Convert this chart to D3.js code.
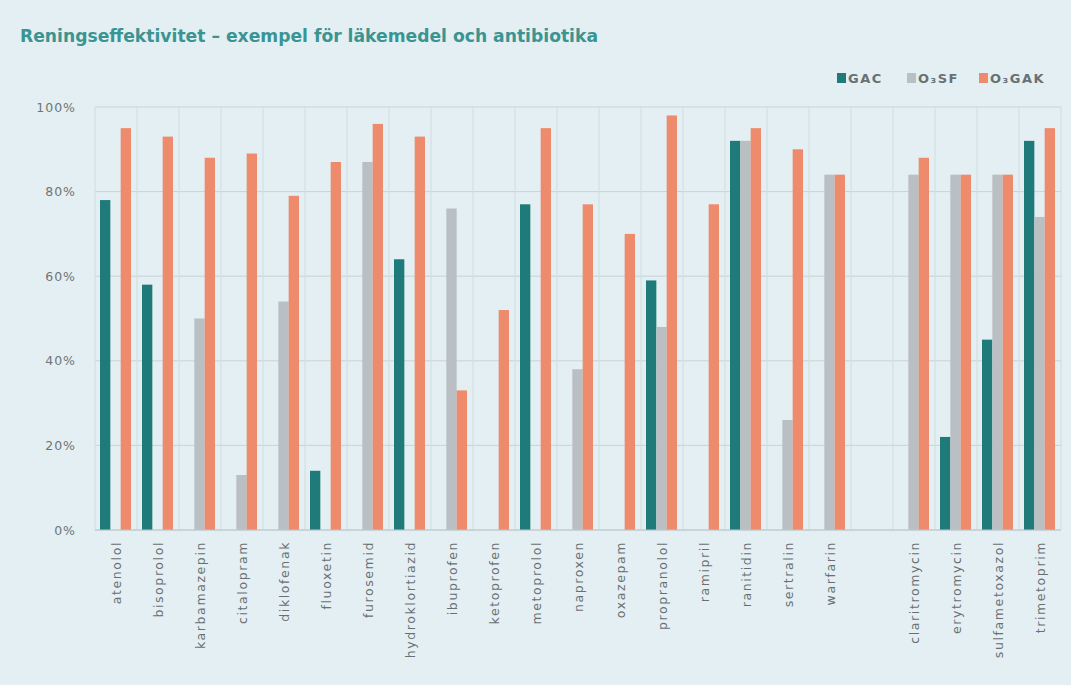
<!DOCTYPE html>
<html>
<head>
<meta charset="utf-8">
<script src="https://cdn.jsdelivr.net/npm/d3@7"></script>
<style>
  html, body { margin: 0; padding: 0; background: #e3eff2; }
  svg { display: block; }
  text { font-family: "DejaVu Sans", sans-serif; }
</style>
</head>
<body>
<svg id="chart" width="1071" height="685"></svg>
<script>
// Substances (an empty slot separates pharmaceuticals from antibiotics)
const categories = ["atenolol", "bisoprolol", "karbamazepin", "citalopram", "diklofenak",
  "fluoxetin", "furosemid", "hydroklortiazid", "ibuprofen", "ketoprofen", "metoprolol",
  "naproxen", "oxazepam", "propranolol", "ramipril", "ranitidin", "sertralin", "warfarin",
  "", "claritromycin", "erytromycin", "sulfametoxazol", "trimetoprim"];

const seriesNames = ["GAC", "O₃SF", "O₃GAK"];

// Removal efficiency in percent (null = no value)
const gac   = [78, 58, null, null, null, 14, null, 64, null, null, 77, null, null, 59, null, 92, null, null, null, null, 22, 45, 92];
const o3sf  = [null, null, 50, 13, 54, null, 87, null, 76, null, null, 38, null, 48, null, 92, 26, 84, null, 84, 84, 84, 74];
const o3gak = [95, 93, 88, 89, 79, 87, 96, 93, 33, 52, 95, 77, 70, 98, 77, 95, 90, 84, null, 88, 84, 84, 95];

const yTicks = [0, 20, 40, 60, 80, 100];
const colors = ["#1f7b79", "#b9bfc2", "#ee8b6d"];

const seriesValues = [gac, o3sf, o3gak];

const svg = d3.select("#chart");
const margin = { left: 95, right: 10, top: 107, bottom: 155 };
const W = 1071, H = 685;

const x0 = d3.scaleBand().domain(d3.range(categories.length))
  .range([margin.left, W - margin.right]).padding(0);
const x1 = d3.scaleBand().domain(d3.range(seriesNames.length))
  .range([5, x0.bandwidth() - 6]).padding(0);
const y = d3.scaleLinear().domain([0, 100]).range([H - margin.bottom, margin.top]);

// Title
svg.append("text")
  .attr("x", 20).attr("y", 42)
  .attr("font-size", 18).attr("font-weight", 600)
  .attr("fill", "#3a9492")
  .attr("textLength", 578).attr("lengthAdjust", "spacingAndGlyphs")
  .text("Reningseffektivitet – exempel för läkemedel och antibiotika");

// Horizontal gridlines
svg.append("g").selectAll("line").data(yTicks).join("line")
  .attr("x1", margin.left).attr("x2", W - margin.right)
  .attr("y1", d => y(d)).attr("y2", d => y(d))
  .attr("stroke", "#c9d3d6").attr("stroke-width", 1);

// Vertical separators between categories
const edges = d3.range(categories.length + 1).map(i =>
  i < categories.length ? x0(i) : x0(categories.length - 1) + x0.bandwidth());
svg.append("g").selectAll("line").data(edges).join("line")
  .attr("x1", d => d).attr("x2", d => d)
  .attr("y1", y(100)).attr("y2", y(0))
  .attr("stroke", "#d3dcdf").attr("stroke-width", 1);

// Y axis labels
const yAxis = d3.axisLeft(y).tickValues(yTicks).tickFormat(d => d + "%").tickSize(0).tickPadding(19);
const gy = svg.append("g").attr("transform", `translate(${margin.left},0)`).call(yAxis);
gy.select(".domain").remove();
gy.selectAll("text").attr("font-size", 12.5).attr("fill", "#6f7476")
  .attr("letter-spacing", 1)
  .style("font-family", '"DejaVu Sans", sans-serif');

// Bars
const bars = [];
categories.forEach((c, i) => {
  seriesValues.forEach((vals, s) => {
    if (vals[i] != null) bars.push({ i, s, v: vals[i] });
  });
});
svg.append("g").selectAll("rect").data(bars).join("rect")
  .attr("x", d => x0(d.i) + x1(d.s))
  .attr("width", x1.bandwidth())
  .attr("y", d => y(d.v))
  .attr("height", d => y(0) - y(d.v))
  .attr("fill", d => colors[d.s]);

// X axis baseline
svg.append("line")
  .attr("x1", margin.left).attr("x2", W - margin.right)
  .attr("y1", y(0)).attr("y2", y(0))
  .attr("stroke", "#bcc8cb");

// Category labels, rotated
svg.append("g").selectAll("text").data(categories.map((c, i) => ({ c, i })).filter(d => d.c))
  .join("text")
  .attr("transform", d => `translate(${x0(d.i) + x0.bandwidth() / 2 + 5},541) rotate(-90)`)
  .attr("text-anchor", "end")
  .attr("font-size", 12.5).attr("fill", "#6a7072")
  .attr("letter-spacing", 1.6)
  .text(d => d.c);

// Legend
const legendX = [837, 907, 979];
const lg = svg.append("g").selectAll("g").data(seriesNames).join("g")
  .attr("transform", (d, i) => `translate(${legendX[i]},72)`);
lg.append("rect").attr("width", 9).attr("height", 10).attr("y", 1)
  .attr("fill", (d, i) => colors[i]);
lg.append("text").attr("x", 11).attr("y", 11)
  .attr("font-size", 13).attr("fill", "#6a7072").attr("font-weight", 600)
  .attr("letter-spacing", 1.5)
  .text(d => d);
</script>
</body>
</html>
